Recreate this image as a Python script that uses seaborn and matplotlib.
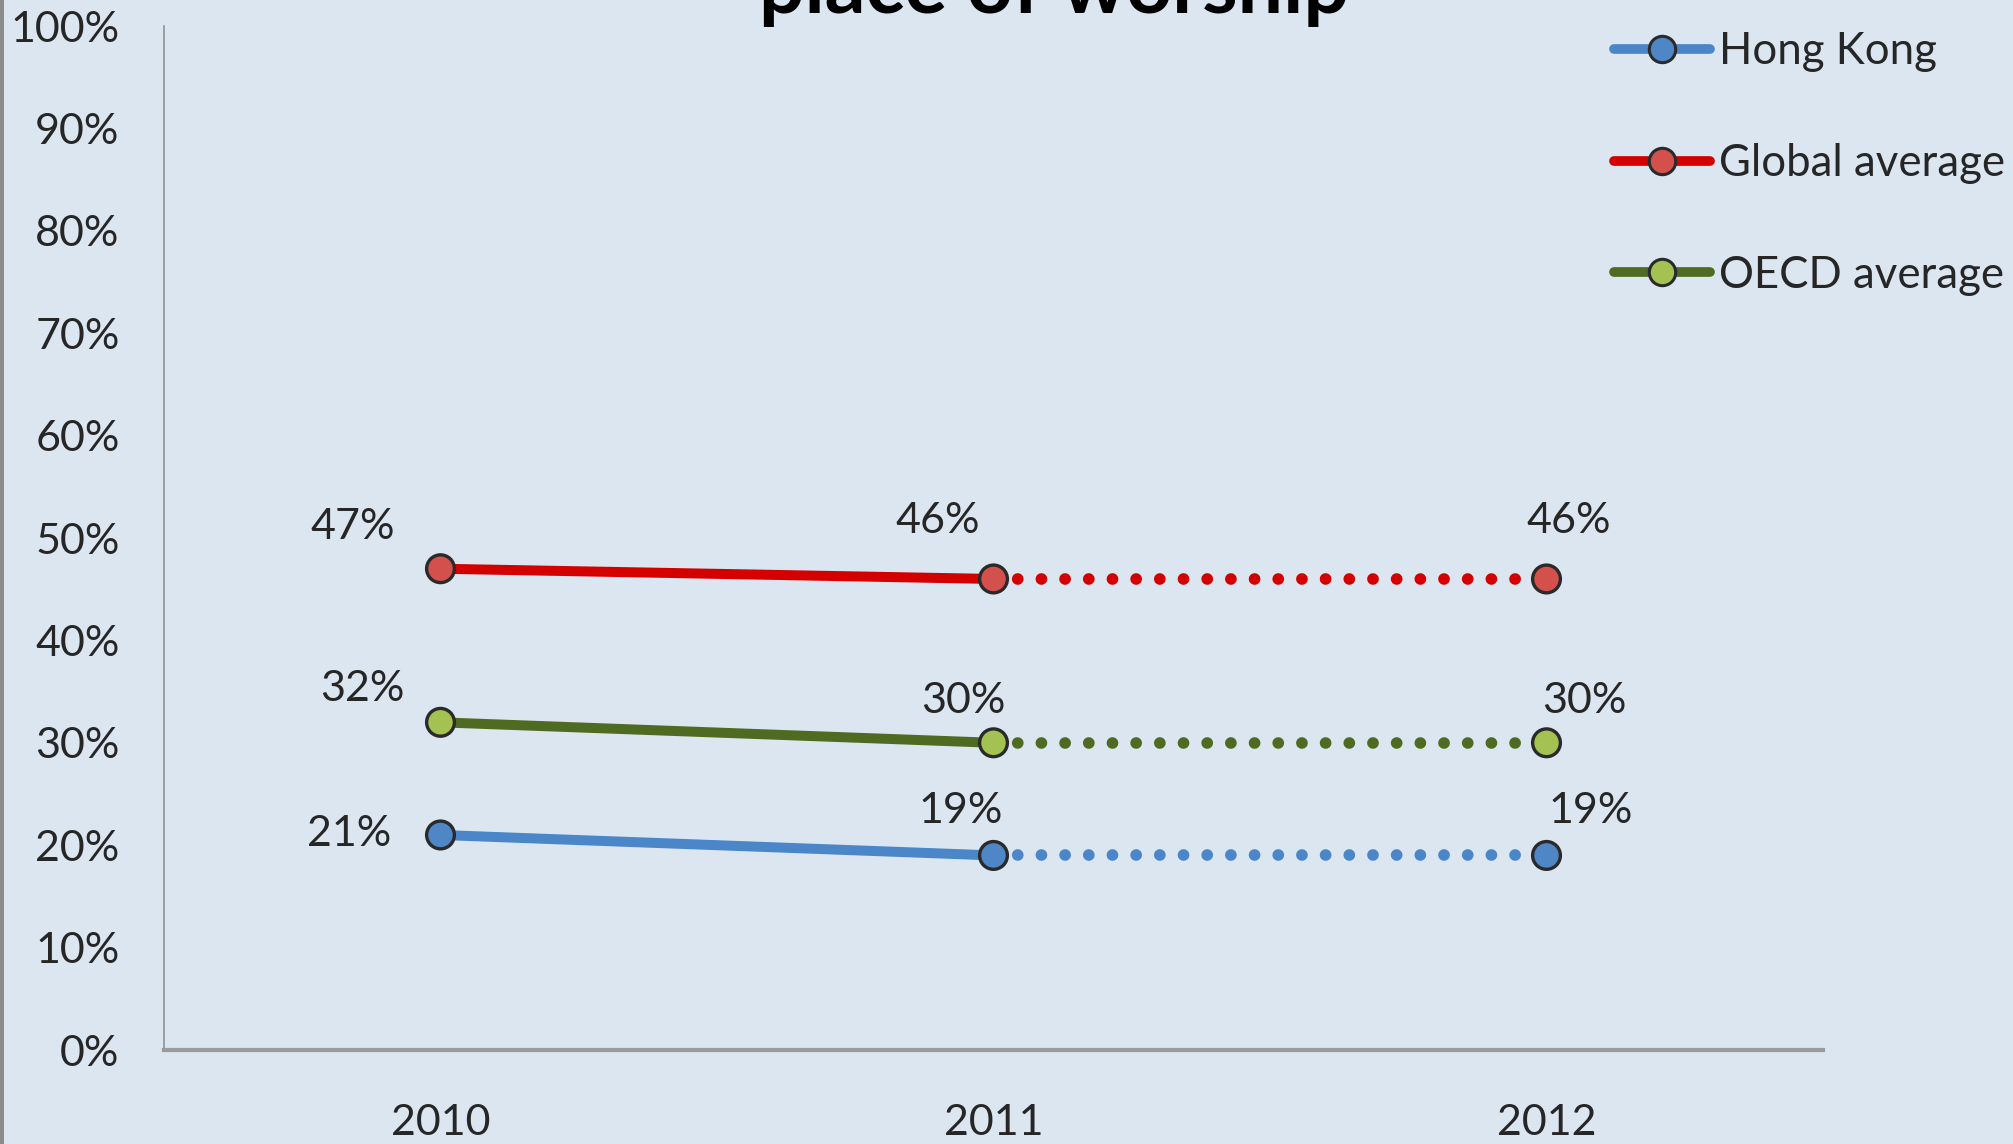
import matplotlib
matplotlib.use("Agg")
import matplotlib.pyplot as plt
from matplotlib.lines import Line2D
from matplotlib.patches import Rectangle
import pandas as pd
import seaborn as sns

# ---- data -------------------------------------------------------------
years = ["2010", "2011", "2012"]
series_names = ["Hong Kong", "Global average", "OECD average"]
hong_kong = [0.21, 0.19, 0.19]
global_average = [0.47, 0.46, 0.46]
oecd_average = [0.32, 0.30, 0.30]
value_labels = {
    "Hong Kong": ["21%", "19%", "19%"],
    "Global average": ["47%", "46%", "46%"],
    "OECD average": ["32%", "30%", "30%"],
}
y_ticks = [0.0, 0.1, 0.2, 0.3, 0.4, 0.5, 0.6, 0.7, 0.8, 0.9, 1.0]
y_tick_labels = ["0%", "10%", "20%", "30%", "40%", "50%", "60%", "70%", "80%", "90%", "100%"]
title_text = "place of worship"

# ---- styling ----------------------------------------------------------
BG = "#dce6f1"
TEXT = "#262626"
line_colors = {"Hong Kong": "#4a86c8", "Global average": "#d40000", "OECD average": "#4f6b22"}
face_colors = {"Hong Kong": "#4f86c6", "Global average": "#d4504c", "OECD average": "#a3c251"}
EDGE = "#2a2a2a"

# label offsets (points) relative to each marker
label_offsets = {
    "Hong Kong": [(-66, 1), (-24, 32), (32, 32)],
    "Global average": [(-63, 30), (-40, 42), (16, 42)],
    "OECD average": [(-56, 24), (-22, 30), (27, 30)],
}

sns.set_style("white")
plt.rcParams["font.family"] = ["Lato", "DejaVu Sans"]

values = {"Hong Kong": hong_kong, "Global average": global_average, "OECD average": oecd_average}
rows = []
for name in series_names:
    for i, year in enumerate(years):
        rows.append({"series": name, "x": i, "year": year, "value": values[name][i]})
df = pd.DataFrame(rows)
solid = df[df["x"] <= 1]
dotted = df[df["x"] >= 1]

W, H, DPI = 2013, 1144, 100
fig = plt.figure(figsize=(W / DPI, H / DPI), dpi=DPI)
fig.patch.set_facecolor(BG)
left, right, bottom, top = 164, 1823, 1050, 26
ax = fig.add_axes([left / W, 1 - bottom / H, (right - left) / W, (bottom - top) / H])
ax.set_facecolor(BG)

sns.lineplot(data=solid, x="x", y="value", hue="series", hue_order=series_names,
             palette=line_colors, linewidth=7.2, solid_capstyle="butt",
             estimator=None, sort=False, legend=False, ax=ax, zorder=2)
sns.lineplot(data=dotted, x="x", y="value", hue="series", hue_order=series_names,
             palette=line_colors, linewidth=8.4, dashes=False, estimator=None,
             sort=False, legend=False, ax=ax, zorder=2)
# turn the 2011-2012 segments into round dots
for ln in ax.lines[len(series_names):]:
    ln.set_dashes((0.01, 2.02))
    ln.set_dash_capstyle("round")

sns.scatterplot(data=df, x="x", y="value", hue="series", hue_order=series_names,
                palette=face_colors, s=400, edgecolor=EDGE, linewidth=2.4,
                legend=False, ax=ax, zorder=3)

for name in series_names:
    for i in range(len(years)):
        dx, dy = label_offsets[name][i]
        ax.annotate(value_labels[name][i], xy=(i, values[name][i]), xytext=(dx, dy),
                    textcoords="offset points", ha="center", va="center",
                    fontsize=31, color=TEXT)

ax.set_xlim(-0.5, len(years) - 0.5)
ax.set_ylim(0, 1)
ax.set_xlabel("")
ax.set_ylabel("")

ax.set_yticks(y_ticks)
ax.set_yticklabels(y_tick_labels)
ax.tick_params(axis="y", length=0, pad=32, labelsize=31, labelcolor=TEXT)

ax.set_xticks([i - 0.5 for i in range(len(years) + 1)])
ax.set_xticklabels([])
ax.set_xticks(range(len(years)), minor=True)
ax.set_xticklabels(years, minor=True)
ax.tick_params(axis="x", which="major", direction="inout", length=26, width=1.1, color="#8a8a8a")
ax.tick_params(axis="x", which="minor", length=0, pad=39, labelsize=31, labelcolor=TEXT)

for side in ("top", "right"):
    ax.spines[side].set_visible(False)
ax.spines["left"].set_color("#8a8a8a")
ax.spines["left"].set_linewidth(1.1)
ax.spines["bottom"].set_color("#9a9a9a")
ax.spines["bottom"].set_linewidth(3)

# legend
handles = [Line2D([0], [0], color=line_colors[n], linewidth=7, marker="o", markersize=19,
                  markerfacecolor=face_colors[n], markeredgecolor=EDGE, markeredgewidth=2.2)
           for n in series_names]
fig.legend(handles, series_names, loc="upper left", bbox_to_anchor=(1614 / W, 1 - 31 / H),
           bbox_transform=fig.transFigure, frameon=False, borderpad=0, borderaxespad=0,
           handlelength=2.2, handletextpad=0.2, labelspacing=1.62, fontsize=31.5,
           labelcolor=TEXT)

# title (top lines fall outside the canvas)
fig.text(1054 / W, 1 - 13 / H, title_text, ha="center", va="baseline",
         fontsize=58, fontweight="bold", color="black")

# thin frame edge on the left
fig.patches.append(Rectangle((0, 0), 4 / W, 1, transform=fig.transFigure,
                             facecolor="#8c8c8c", edgecolor="none"))

fig.savefig("out.png", dpi=DPI, facecolor=BG)
